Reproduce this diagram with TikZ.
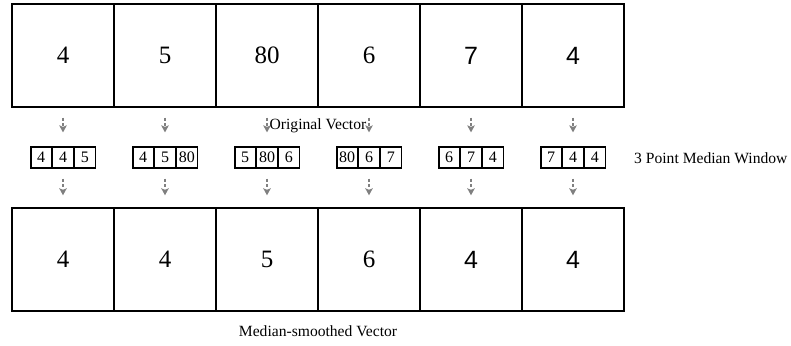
\documentclass[tikz,border=0pt]{standalone}
\usepackage{fontspec}
\setmainfont{Liberation Serif}
\newfontfamily\arialfont{Liberation Sans}
\usetikzlibrary{arrows.meta}
\begin{document}
\begin{tikzpicture}[x=1pt,y=-1pt,
  cell/.style={draw=black,line width=1.4pt,minimum width=102pt,minimum height=103pt,inner sep=0pt,font=\fontsize{25}{25}\selectfont},
  wcell/.style={draw=black,line width=1.2pt,minimum width=20.6pt,minimum height=21pt,inner sep=0pt,font=\fontsize{16}{16}\selectfont},
  flow/.style={draw=gray,line width=1.3pt,dash pattern=on 3pt off 2.5pt,-{Stealth[length=7pt,width=7.5pt,inset=1.5pt]}},
  caption/.style={font=\fontsize{15.6}{15.6}\selectfont,inner sep=0pt}]
\useasboundingbox (0,0) rectangle (791,345);
% original vector
\node[cell] (t1) at (63,55.5) {4};
\node[cell] (t2) at (165,55.5) {5};
\node[cell] (t3) at (267,55.5) {80};
\node[cell] (t4) at (369,55.5) {6};
\node[cell] (t5) at (471,55.5) {\arialfont 7};
\node[cell] (t6) at (573,55.5) {\arialfont 4};
% smoothed vector
\node[cell] (b1) at (63,259.5) {4};
\node[cell] (b2) at (165,259.5) {4};
\node[cell] (b3) at (267,259.5) {5};
\node[cell] (b4) at (369,259.5) {6};
\node[cell] (b5) at (471,259.5) {\arialfont 4};
\node[cell] (b6) at (573,259.5) {\arialfont 4};
% three-point windows
\foreach \i/\x/\a/\b/\c in {1/63/4/4/5, 2/165/4/5/80, 3/267/5/80/6, 4/369/80/6/7, 5/471/6/7/4, 6/573/7/4/4}{
  \node[wcell] (w\i b) at (\x,157.5) {\b};
  \node[wcell,anchor=east] (w\i a) at (w\i b.west) {\a};
  \node[wcell,anchor=west] (w\i c) at (w\i b.east) {\c};
  \draw[flow,shorten <=10pt,shorten >=14pt] (t\i.south) -- (w\i b.north);
  \draw[flow,shorten <=10pt,shorten >=12pt] (w\i b.south) -- (b\i.north);
}
% captions
\node[caption] (lorig) at (318,126) {Original Vector};
\node[caption,anchor=west] (lwin) at (634,158) {3 Point Median Window};
\node[caption] (lsmooth) at (318,331) {Median-smoothed Vector};
\end{tikzpicture}
\end{document}
